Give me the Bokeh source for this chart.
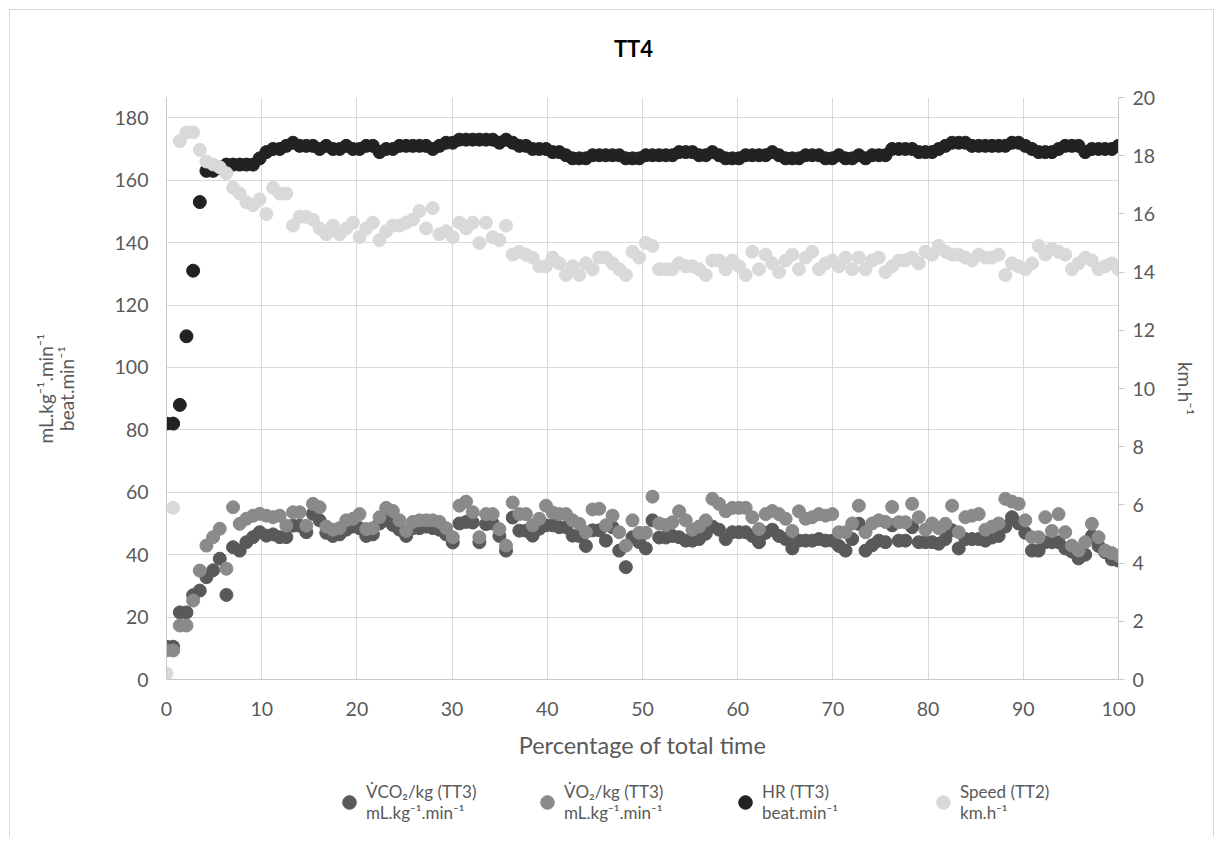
import numpy as np
from bokeh.plotting import figure
from bokeh.layouts import column
from bokeh.models import (Range1d, LinearAxis, FixedTicker, Legend, LegendItem,
                          Label, ColumnDataSource)
from bokeh.embed import file_html
from bokeh.resources import INLINE

# ---------------- data ----------------
pct = list(np.linspace(0, 100, 144))

vco2 = [10.5, 10.5, 21.5, 21.5, 27.0, 28.5, 32.8, 35.0, 38.7, 27.1,
        42.4, 41.3, 44.0, 45.6, 47.2, 46.1, 46.5, 45.6, 45.6, 49.3,
        49.3, 47.2, 53.1, 51.0, 47.0, 46.0, 46.5, 48.0, 49.0, 48.5,
        46.0, 46.5, 50.0, 51.0, 49.5, 48.0, 46.0, 48.5, 48.5, 49.0,
        48.5, 48.0, 46.5, 43.9, 50.0, 50.5, 50.3, 44.0, 49.8, 50.0,
        46.0, 41.3, 51.9, 47.7, 47.7, 46.1, 48.3, 49.4, 49.4, 48.8,
        48.8, 46.1, 46.0, 42.8, 47.8, 47.8, 44.5, 48.8, 41.3, 36.0,
        45.6, 44.0, 42.0, 51.0, 45.5, 45.5, 46.0, 45.6, 44.5, 44.5,
        45.0, 46.7, 49.0, 48.0, 45.0, 47.2, 47.2, 47.2, 46.0, 44.0,
        47.0, 48.0, 46.0, 45.0, 42.0, 44.5, 44.5, 44.5, 45.0, 44.5,
        44.5, 42.8, 41.3, 45.0, 49.9, 41.3, 43.0, 44.5, 44.0, 49.4,
        44.5, 44.5, 48.8, 44.0, 44.0, 44.0, 43.5, 45.0, 47.8, 42.0,
        45.0, 45.0, 45.0, 44.5, 45.5, 46.0, 49.0, 52.0, 50.0, 47.0,
        41.3, 41.3, 44.0, 44.0, 44.0, 42.0, 41.0, 38.8, 40.0, 46.0,
        42.8, 40.8, 38.5, 38.1]

vo2 = [9.3, 9.3, 17.3, 17.3, 25.3, 34.9, 42.9, 45.6, 48.3, 35.5,
       55.2, 49.9, 51.5, 52.5, 53.1, 52.5, 52.0, 52.5, 49.3, 53.6,
       53.6, 49.3, 56.3, 55.2, 49.0, 48.0, 48.5, 51.0, 51.5, 53.0,
       48.2, 48.5, 52.0, 55.0, 54.0, 51.0, 47.6, 50.5, 51.0, 51.0,
       51.0, 50.5, 48.5, 45.6, 55.7, 57.0, 53.6, 45.6, 53.0, 53.0,
       48.2, 42.9, 56.7, 53.0, 53.0, 49.4, 51.5, 55.7, 53.5, 53.0,
       53.0, 51.0, 49.9, 47.2, 54.5, 54.7, 49.4, 52.5, 47.2, 42.9,
       51.0, 47.0, 47.0, 58.6, 50.0, 49.5, 50.4, 53.9, 51.0, 48.0,
       49.0, 51.0, 57.9, 56.3, 53.9, 55.0, 55.0, 55.0, 52.0, 48.2,
       53.0, 54.0, 53.0, 51.5, 47.6, 53.9, 51.5, 52.0, 53.0, 52.5,
       53.0, 47.2, 47.2, 50.0, 55.7, 47.2, 50.0, 51.0, 50.5, 55.3,
       50.4, 50.4, 56.3, 52.0, 48.0, 50.0, 48.5, 49.9, 55.7, 47.2,
       52.0, 52.5, 53.0, 48.0, 49.0, 50.0, 57.9, 57.0, 56.3, 51.0,
       45.6, 45.6, 52.0, 47.6, 53.0, 47.2, 42.9, 41.3, 44.0, 49.9,
       45.6, 41.3, 40.5, 39.7]

hr = [82, 82, 88, 110, 131, 153, 163, 163, 164, 165,
      165, 165, 165, 165, 167, 169, 170, 170, 171, 172,
      171, 171, 171, 170, 171, 170, 170, 171, 170, 170,
      171, 171, 169, 170, 170, 171, 171, 171, 171, 171,
      170, 171, 172, 172, 173, 173, 173, 173, 173, 173,
      172, 173, 172, 171, 171, 170, 170, 170, 169, 169,
      168, 167, 167, 167, 168, 168, 168, 168, 168, 167,
      167, 167, 168, 168, 168, 168, 168, 169, 169, 169,
      168, 168, 169, 168, 167, 167, 167, 168, 168, 168,
      168, 169, 168, 167, 167, 167, 168, 168, 168, 167,
      167, 168, 167, 167, 168, 167, 168, 168, 168, 170,
      170, 170, 170, 169, 169, 169, 170, 171, 172, 172,
      172, 171, 171, 171, 171, 171, 171, 172, 172, 171,
      170, 169, 169, 169, 170, 171, 171, 171, 169, 170,
      170, 170, 170, 171]

speed = [0.2, 5.9, 18.5, 18.8, 18.8, 18.2, 17.8, 17.7, 17.6, 17.4,
         16.9, 16.7, 16.4, 16.3, 16.5, 16.0, 16.9, 16.7, 16.7, 15.6,
         15.9, 15.9, 15.8, 15.5, 15.3, 15.6, 15.3, 15.5, 15.7, 15.2,
         15.5, 15.7, 15.1, 15.4, 15.6, 15.6, 15.7, 15.8, 16.1, 15.5,
         16.2, 15.3, 15.4, 15.2, 15.7, 15.5, 15.7, 15.0, 15.7, 15.2,
         15.1, 15.6, 14.6, 14.7, 14.6, 14.5, 14.2, 14.2, 14.5, 14.3,
         13.9, 14.2, 13.9, 14.3, 14.1, 14.5, 14.5, 14.3, 14.1, 13.9,
         14.7, 14.5, 15.0, 14.9, 14.1, 14.1, 14.1, 14.3, 14.2, 14.2,
         14.1, 13.9, 14.4, 14.4, 14.1, 14.4, 14.2, 13.9, 14.7, 14.1,
         14.6, 14.3, 14.0, 14.4, 14.6, 14.1, 14.5, 14.7, 14.1, 14.3,
         14.4, 14.2, 14.5, 14.1, 14.5, 14.1, 14.4, 14.5, 14.0, 14.2,
         14.4, 14.4, 14.5, 14.3, 14.7, 14.6, 14.9, 14.7, 14.6, 14.6,
         14.5, 14.4, 14.6, 14.5, 14.5, 14.6, 13.9, 14.3, 14.2, 14.1,
         14.3, 14.9, 14.6, 14.8, 14.7, 14.6, 14.1, 14.3, 14.5, 14.4,
         14.1, 14.2, 14.3, 14.1]

x_ticks = [0, 10, 20, 30, 40, 50, 60, 70, 80, 90, 100]
left_ticks = [0, 20, 40, 60, 80, 100, 120, 140, 160, 180]
right_ticks = [0, 2, 4, 6, 8, 10, 12, 14, 16, 18, 20]

title_text = "TT4"
series = ["vco2", "vo2", "hr", "speed"]
labels = ["V\u0307CO\u2082/kg (TT3)\nmL.kg\u207b\u00b9.min\u207b\u00b9",
          "V\u0307O\u2082/kg (TT3)\nmL.kg\u207b\u00b9.min\u207b\u00b9",
          "HR (TT3)\nbeat.min\u207b\u00b9",
          "Speed (TT2)\nkm.h\u207b\u00b9"]
colors = ["#595959", "#8a8a8a", "#222222", "#d9d9d9"]

assert len(pct) == len(vco2) == len(vo2) == len(hr) == len(speed), \
    (len(pct), len(vco2), len(vo2), len(hr), len(speed))

FONT = "Lato"
GRID = "#d9d9d9"
TXT = "#595959"
W = 1203
FRAME_W = 952   # plot-area width shared by all stacked parts


def bare(fig):
    fig.axis.visible = False
    fig.grid.visible = False
    fig.outline_line_color = None
    fig.min_border = 0
    return fig


src = ColumnDataSource(dict(x=pct, vco2=vco2, vo2=vo2, hr=hr, speed=speed))

# ---------------- title strip ----------------
TH = 55
pt = bare(figure(width=W, height=TH, output_backend="svg", toolbar_location=None,
                 x_range=Range1d(0, FRAME_W), y_range=Range1d(0, TH)))
pt.add_layout(Label(x=467, y=TH - 38, text=title_text, text_font=FONT,
                    text_font_size="22px", text_font_style="bold",
                    text_color="#000000", text_align="center",
                    text_baseline="middle"))

# ---------------- main chart ----------------
p = figure(width=W, height=702, output_backend="svg", toolbar_location=None,
           x_range=Range1d(0, 100), y_range=Range1d(0, 186.5),
           min_border_left=156, min_border_right=95, min_border_top=32,
           min_border_bottom=88)
p.extra_y_ranges = {"speed": Range1d(0, 20)}
p.outline_line_color = None

SZ = 13
for name, c in zip(series, colors):
    kw = {"y_range_name": "speed"} if name == "speed" else {}
    p.scatter("x", name, source=src, size=SZ, color=c, **kw)

xa = p.xaxis[0]
xa.ticker = FixedTicker(ticks=x_ticks)
xa.axis_label = "Percentage of total time"
ya = p.yaxis[0]
ya.ticker = FixedTicker(ticks=left_ticks)
ya.axis_label = "mL.kg\u207b\u00b9.min\u207b\u00b9\nbeat.min\u207b\u00b9"

ra = LinearAxis(y_range_name="speed", ticker=FixedTicker(ticks=right_ticks),
                axis_label="km.h\u207b\u00b9")
p.add_layout(ra, "right")

for ax in (xa, ya, ra):
    ax.axis_line_color = "#c8c8c8"
    ax.major_tick_line_color = None
    ax.minor_tick_line_color = None
    ax.major_label_text_font = FONT
    ax.major_label_text_font_size = "19.5px"
    ax.major_label_text_color = TXT
    ax.axis_label_text_font = FONT
    ax.axis_label_text_font_size = "19px"
    ax.axis_label_text_font_style = "normal"
    ax.axis_label_text_color = TXT

ra.major_tick_line_color = "#c8c8c8"
ra.major_tick_out = 6
ra.major_tick_in = 0
ra.major_label_standoff = 8
ra.axis_label_standoff = 16
ya.major_label_standoff = 12
ya.axis_label_standoff = 34
ya.axis_label_text_line_height = 0.9
xa.major_label_standoff = 16
xa.axis_label_standoff = 12
xa.axis_label_text_font_size = "23.5px"

p.xgrid.ticker = FixedTicker(ticks=x_ticks)
p.ygrid.ticker = FixedTicker(ticks=left_ticks)
p.xgrid.grid_line_color = GRID
p.ygrid.grid_line_color = GRID

# ---------------- legend strip ----------------
# same series drawn again in a strip whose range shows none of them;
# they only serve as the legend's glyph sources
LH = 70
pl = bare(figure(width=W, height=LH, output_backend="svg", toolbar_location=None,
                 x_range=Range1d(0, 100), y_range=Range1d(1000, 1001)))
leg_r = [pl.scatter("x", name, source=src, size=SZ, color=c)
         for name, c in zip(series, colors)]
legend = Legend(items=[LegendItem(label=lab, renderers=[r])
                       for lab, r in zip(labels, leg_r)],
                orientation="horizontal", location=(166, 12),
                padding=0, margin=0, spacing=0, glyph_width=34, glyph_height=34,
                label_standoff=0, label_width=164, label_height=46,
                label_text_font=FONT, label_text_font_size="17px",
                label_text_line_height=1.3,
                label_text_color=TXT, border_line_color=None,
                background_fill_alpha=0)
pl.add_layout(legend, "center")

layout = column(pt, p, pl, spacing=0)
layout.styles = {"margin-left": "9px", "margin-top": "9px",
                 "border-left": "1px solid #d9d9d9", "border-top": "1px solid #d9d9d9",
                 "border-right": "1px solid #d9d9d9"}

open("out.html", "w").write(file_html(layout, INLINE))
